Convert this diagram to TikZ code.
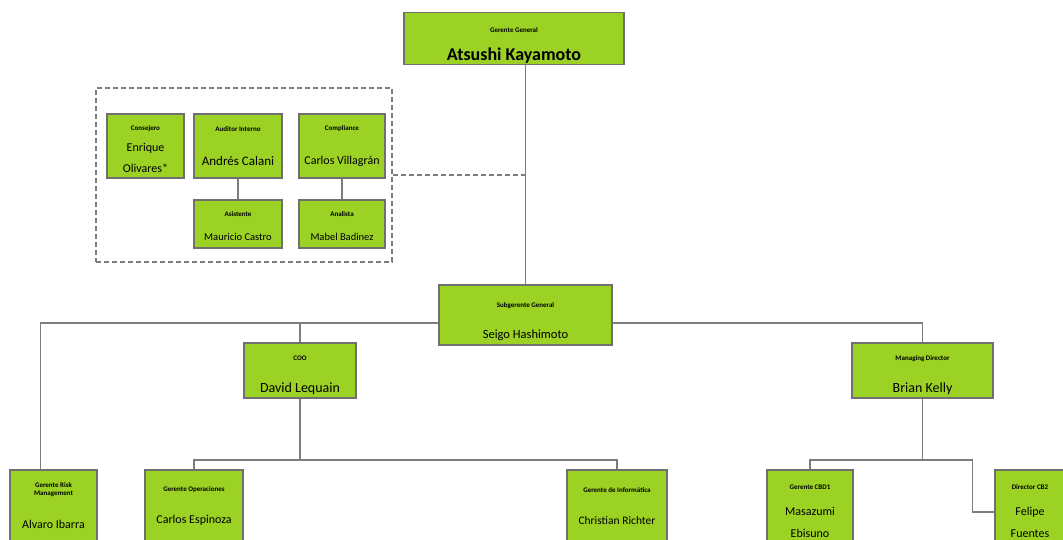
\documentclass[tikz,border=0pt]{standalone}
\usepackage{fontspec}
\setmainfont{Carlito}
\usepackage{tikz}
\definecolor{verde}{RGB}{155,210,35}
\definecolor{borde}{RGB}{112,112,112}
\definecolor{linea}{RGB}{125,125,125}
\newcommand{\cargo}[1]{{\fontsize{7}{8}\selectfont\bfseries #1}}
\newcommand{\baja}[1]{\rule{0pt}{#1}}
\tikzstyle{puesto}=[rectangle, draw=borde, fill=verde, line width=1.6pt, align=center, inner sep=1pt, font=\fontsize{12}{14}\selectfont]
\tikzstyle{conector}=[draw=linea, line width=1.4pt]

\begin{document}
\begin{tikzpicture}[x=1pt, y=-1pt]
                \useasboundingbox (0,0) rectangle (1063,539);
                \fill[white] (0,0) rectangle (1063,539);
                % direccion
                \node[puesto, minimum width=220, minimum height=49, font=\fontsize{18}{20}\selectfont\bfseries] (gg) at (514, 38.5) {\baja{19pt}\cargo{Gerente General}\\[8pt]Atsushi Kayamoto};
                \node[draw=linea, line width=1.3pt, dash pattern=on 5pt off 3pt, minimum width=296, minimum height=174] (staff) at (244, 175) {};
                \node[puesto, minimum width=77, minimum height=64] (cons) at (145.5, 146) {\baja{11pt}\cargo{Consejero}\\[7pt]Enrique\\[7pt]Olivares*};
                \node[puesto, minimum width=88, minimum height=64, font=\fontsize{13}{14}\selectfont] (ai) at (238, 146) {\cargo{Auditor Interno}\\[20pt]Andrés Calani};
                \node[puesto, minimum width=86, minimum height=64] (cp) at (342, 146) {\cargo{Compliance}\\[20pt]Carlos Villagrán};
                \node[puesto, minimum width=88, minimum height=48, font=\fontsize{10.5}{12}\selectfont] (asi) at (238, 224) {\baja{9pt}\cargo{Asistente}\\[12pt]Mauricio Castro};
                \node[puesto, minimum width=86, minimum height=48, font=\fontsize{10.5}{12}\selectfont] (ana) at (342, 224) {\baja{9pt}\cargo{Analista}\\[12pt]Mabel Badinez};
                \node[puesto, minimum width=173, minimum height=60, font=\fontsize{12.5}{14}\selectfont] (sg) at (525.5, 315) {\baja{19pt}\cargo{Subgerente General}\\[17pt]Seigo Hashimoto};
                \node[puesto, minimum width=112, minimum height=55, font=\fontsize{14}{15}\selectfont] (coo) at (300, 370.5) {\baja{15pt}\cargo{COO}\\[17pt]David Lequain};
                \node[puesto, minimum width=141, minimum height=55, font=\fontsize{14}{15}\selectfont] (md) at (922.5, 370.5) {\baja{15pt}\cargo{Managing Director}\\[17pt]Brian Kelly};
                % gerencias
                \node[puesto, minimum width=87, minimum height=72] (rg) at (53.5, 506) {\cargo{Gerente Risk}\\[-6pt]\cargo{Management}\\[19pt]Alvaro Ibarra};
                \node[puesto, minimum width=98, minimum height=72] (ope) at (194, 506) {\cargo{Gerente Operaciones}\\[18pt]Carlos Espinoza};
                \node[puesto, minimum width=100, minimum height=72, font=\fontsize{11.5}{14}\selectfont] (inf) at (617, 506) {\cargo{Gerente de Informática}\\[18pt]Christian Richter};
                \node[puesto, minimum width=86, minimum height=72] (cbd) at (810, 506) {\baja{15pt}\cargo{Gerente CBD1}\\[12pt]Masazumi\\[8pt]Ebisuno};
                \node[puesto, minimum width=70, minimum height=72] (fel) at (1030, 506) {\baja{15pt}\cargo{Director CB2}\\[12pt]Felipe\\[8pt]Fuentes};
                \coordinate (nivel) at (0, 323);
                \coordinate (nivelb) at (0, 460);
                \draw[conector] (sg.north) -- (sg.north |- gg.south);
                \draw[conector, dash pattern=on 5pt off 3pt] (staff.east) -- (staff.east -| sg.north);
                \draw[conector] (ai) -- (asi);
                \draw[conector] (cp) -- (ana);
                \draw[conector] (sg.west |- nivel) -| ([xshift=-13]rg.north);
                \draw[conector] (sg.east |- nivel) -| (md.north);
                \draw[conector] (coo.north |- nivel) -- (coo.north);
                \draw[conector] (coo.south) -- (coo.south |- nivelb);
                \draw[conector] (ope.north) |- (coo.south |- nivelb) -| (inf.north);
                \draw[conector] (md.south) -- (md.south |- nivelb);
                \draw[conector] (cbd.north) |- (md.south |- nivelb) -| ([xshift=-22,yshift=-6]fel.west) -- ([yshift=-6]fel.west);
            \end{tikzpicture}
\end{document}
